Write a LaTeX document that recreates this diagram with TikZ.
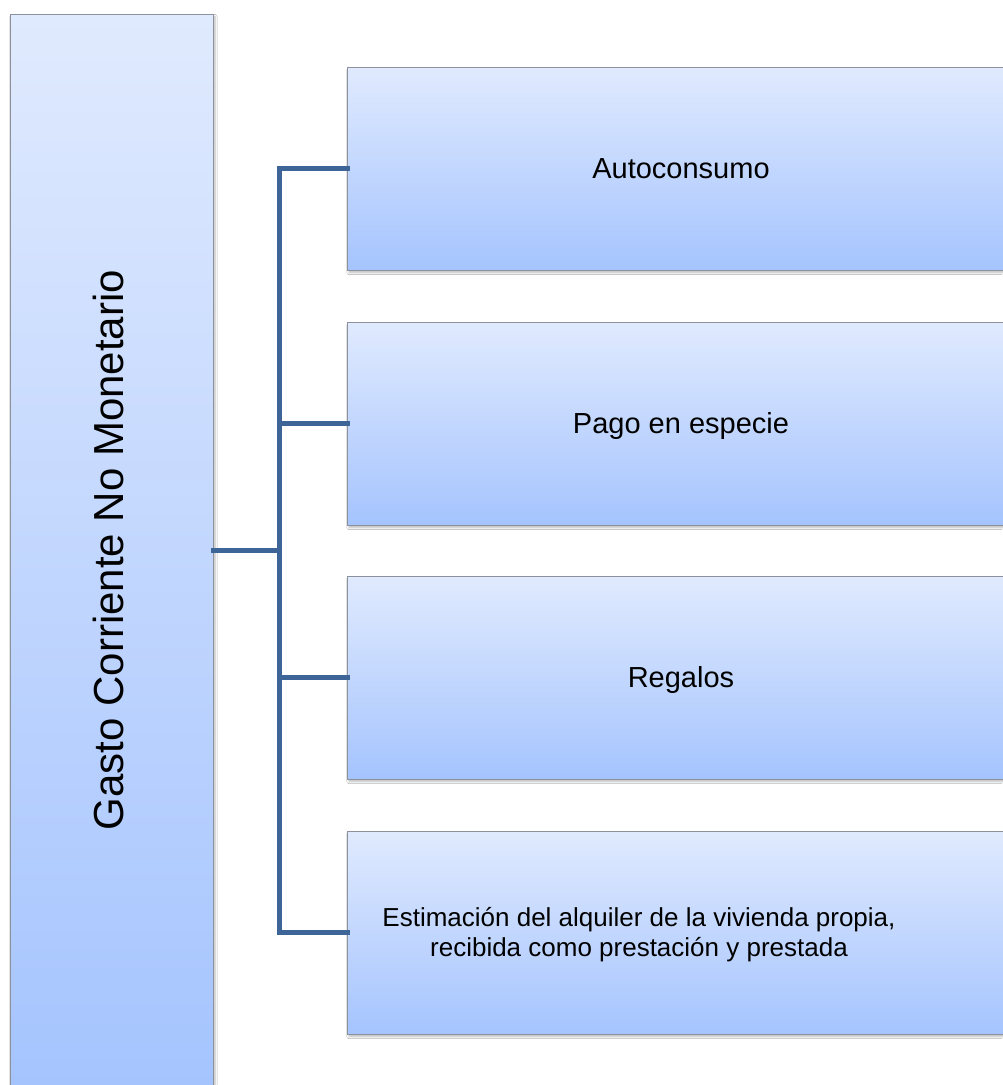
\documentclass[tikz,border=0pt]{standalone}
\usepackage{fontspec}
\setmainfont{Liberation Sans}
\usetikzlibrary{shadows.blur}

\definecolor{boxtop}{RGB}{224,234,254}
\definecolor{boxbottom}{RGB}{165,196,254}
\definecolor{boxedge}{RGB}{140,145,155}
\definecolor{linkblue}{RGB}{62,101,151}

\tikzset{
  panel/.style={
    draw=boxedge, line width=1pt, inner sep=0pt, outer sep=0pt,
    top color=boxtop, bottom color=boxbottom,
    blur shadow={shadow xshift=2pt, shadow yshift=-2.5pt,
                 shadow blur steps=6, shadow opacity=28}
  },
  itembox/.style={panel, minimum width=668pt, minimum height=203pt},
  itemtext/.style={anchor=base, inner sep=0pt, align=center,
    font=\fontsize{29}{34}\selectfont},
  smalltext/.style={anchor=base, inner sep=0pt, align=center,
    font=\fontsize{26}{30}\selectfont},
  link/.style={draw=linkblue, line width=5pt, line join=miter, line cap=rect}
}

\begin{document}
\begin{tikzpicture}[x=1pt, y=-1pt]
  \useasboundingbox (0,0) rectangle (1002,1085);
  \fill[white] (0,0) rectangle (1002,1085);

  % parent category
  \node[panel, minimum width=203pt, minimum height=1072pt] (root) at (111.5,550) {};
  \node[rotate=90, anchor=base, inner sep=0pt, font=\fontsize{42}{48}\selectfont]
    (rootlabel) at (123,550) {Gasto Corriente No Monetario};

  % sub-items
  \node[itembox] (b1) at (681,168.5) {};
  \node[itembox] (b2) at (681,423.5) {};
  \node[itembox] (b3) at (681,677.5) {};
  \node[itembox] (b4) at (681,932.5) {};

  \node[itemtext] (t1) at (681,178) {Autoconsumo};
  \node[itemtext] (t2) at (681,433) {Pago en especie};
  \node[itemtext] (t3) at (681,687) {Regalos};
  % two-line label: the base anchor sits on the last line
  \node[smalltext] (t4) at (639,956)
    {Estimación del alquiler de la vivienda propia,\\recibida como prestación y prestada};

  % bracket connector
  \coordinate (hub) at ([xshift=66pt]root.east);
  \draw[link] (root.east) -- (hub);
  \draw[link] (b1.west) -- (b1.west -| hub) -- (b4.west -| hub) -- (b4.west);
  \draw[link] (b2.west) -- (b2.west -| hub);
  \draw[link] (b3.west) -- (b3.west -| hub);
\end{tikzpicture}
\end{document}
